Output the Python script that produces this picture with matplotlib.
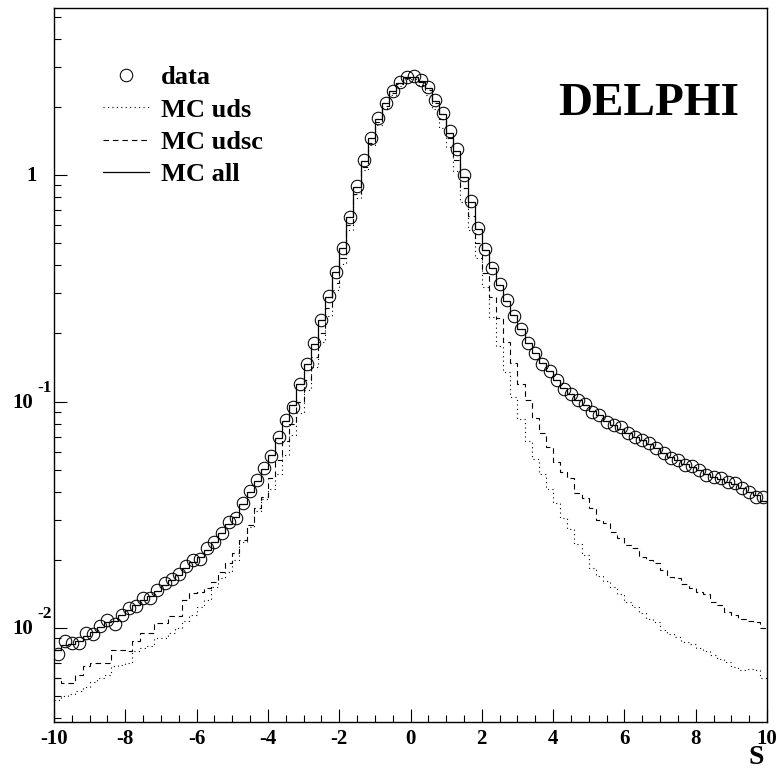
import numpy as np
import matplotlib.pyplot as plt
from matplotlib.lines import Line2D
from matplotlib.ticker import MultipleLocator, LogLocator, NullFormatter

plt.rcParams['font.family'] = ['Liberation Serif', 'DejaVu Serif']
plt.rcParams['font.weight'] = 'bold'
plt.rcParams['axes.unicode_minus'] = False

# 100 bins of width 0.2 between -10 and 10
bin_edges = np.arange(-10.0, 10.001, 0.2)
bin_centers = 0.5 * (bin_edges[:-1] + bin_edges[1:])

data = [
    0.0077, 0.0088, 0.0086, 0.0086, 0.0095, 0.0094, 0.0102, 0.0109, 0.0104, 0.0114,
    0.0123, 0.0125, 0.0136, 0.0136, 0.0147, 0.0158, 0.0164, 0.0173, 0.0188, 0.0200,
    0.0201, 0.0225, 0.0240, 0.0262, 0.0293, 0.0305, 0.0355, 0.0403, 0.0450, 0.0507,
    0.0577, 0.0700, 0.0830, 0.0950, 0.120, 0.147, 0.182, 0.230, 0.292, 0.375,
    0.478, 0.655, 0.890, 1.16, 1.46, 1.78, 2.08, 2.35, 2.58, 2.70,
    2.74, 2.62, 2.45, 2.15, 1.88, 1.56, 1.30, 1.00, 0.77, 0.585,
    0.47, 0.39, 0.33, 0.28, 0.238, 0.208, 0.181, 0.163, 0.147, 0.137,
    0.124, 0.114, 0.108, 0.102, 0.098, 0.090, 0.087, 0.0814, 0.0787, 0.0775,
    0.0723, 0.070, 0.0676, 0.0654, 0.0625, 0.059, 0.0561, 0.0552, 0.0525, 0.0522,
    0.0499, 0.0473, 0.0465, 0.0458, 0.0443, 0.0435, 0.0414, 0.0400, 0.0380, 0.0378,
]

mc_all = [
    0.0080, 0.0084, 0.0085, 0.0088, 0.0092, 0.0096, 0.0101, 0.0106, 0.0108, 0.0114,
    0.0120, 0.0126, 0.0133, 0.0138, 0.0146, 0.0155, 0.0163, 0.0172, 0.0185, 0.0196,
    0.0206, 0.0222, 0.0240, 0.0262, 0.0288, 0.0310, 0.0352, 0.0400, 0.0448, 0.0505,
    0.0580, 0.0690, 0.0820, 0.0970, 0.119, 0.146, 0.180, 0.228, 0.290, 0.372,
    0.475, 0.650, 0.885, 1.15, 1.45, 1.77, 2.07, 2.34, 2.56, 2.70,
    2.72, 2.60, 2.42, 2.13, 1.85, 1.54, 1.27, 0.98, 0.76, 0.58,
    0.465, 0.388, 0.328, 0.279, 0.240, 0.208, 0.182, 0.164, 0.148, 0.136,
    0.124, 0.115, 0.108, 0.102, 0.097, 0.091, 0.087, 0.082, 0.079, 0.076,
    0.073, 0.070, 0.0675, 0.065, 0.0625, 0.0595, 0.057, 0.0552, 0.053, 0.0515,
    0.0498, 0.0478, 0.0465, 0.0455, 0.0443, 0.0432, 0.0415, 0.0400, 0.0385, 0.0365,
]

mc_udsc = [
    0.0060, 0.0057, 0.0057, 0.0062, 0.0068, 0.0070, 0.0070, 0.0070, 0.0080, 0.0080,
    0.0079, 0.0088, 0.0095, 0.0095, 0.0105, 0.0105, 0.0113, 0.0113, 0.0133, 0.0143,
    0.0145, 0.0150, 0.0160, 0.0177, 0.0194, 0.0215, 0.0245, 0.0285, 0.0340, 0.0380,
    0.0460, 0.055, 0.067, 0.080, 0.100, 0.125, 0.157, 0.200, 0.258, 0.335,
    0.432, 0.600, 0.825, 1.09, 1.39, 1.71, 2.01, 2.29, 2.52, 2.67,
    2.70, 2.57, 2.38, 2.07, 1.76, 1.45, 1.17, 0.88, 0.66, 0.50,
    0.37, 0.29, 0.233, 0.184, 0.1475, 0.120, 0.1016, 0.0843, 0.0724, 0.0631,
    0.0542, 0.049, 0.0458, 0.0393, 0.0374, 0.0338, 0.030, 0.029, 0.0266, 0.0249,
    0.0232, 0.0225, 0.0207, 0.020, 0.0193, 0.018, 0.0168, 0.0166, 0.0157, 0.0150,
    0.0145, 0.0142, 0.0131, 0.0126, 0.0118, 0.0114, 0.0110, 0.0107, 0.0106, 0.0100,
]

mc_uds = [
    0.0048, 0.0050, 0.0051, 0.0053, 0.0055, 0.0058, 0.0060, 0.0062, 0.0068, 0.0069,
    0.0070, 0.0079, 0.0082, 0.0083, 0.0090, 0.0090, 0.0095, 0.0100, 0.0108, 0.0114,
    0.0124, 0.0133, 0.0152, 0.0166, 0.0177, 0.0200, 0.0240, 0.0280, 0.0330, 0.0370,
    0.0410, 0.048, 0.058, 0.071, 0.089, 0.112, 0.142, 0.183, 0.238, 0.312,
    0.405, 0.570, 0.790, 1.05, 1.35, 1.67, 1.97, 2.25, 2.48, 2.64,
    2.65, 2.50, 2.25, 1.95, 1.62, 1.33, 1.04, 0.76, 0.57, 0.43,
    0.32, 0.235, 0.175, 0.135, 0.105, 0.084, 0.067, 0.056, 0.048, 0.041,
    0.0355, 0.0305, 0.0275, 0.0235, 0.0210, 0.0185, 0.0170, 0.0162, 0.0152, 0.0142,
    0.0131, 0.0124, 0.0116, 0.0110, 0.0106, 0.0098, 0.0094, 0.0091, 0.0087, 0.0085,
    0.0082, 0.0079, 0.0076, 0.0073, 0.0071, 0.0067, 0.0065, 0.0066, 0.0065, 0.0060,
]

xticks = [-10, -8, -6, -4, -2, 0, 2, 4, 6, 8, 10]
ytick_vals = [1, 0.1, 0.01]
ytick_base = ['1', '10', '10']
ytick_exp = ['', '-1', '-2']
legend_labels = ['data', 'MC uds', 'MC udsc', 'MC all']

dotted = (0, (1, 3))
dashed = (0, (5, 3.5))

fig = plt.figure(figsize=(7.8, 7.72), dpi=100)
ax = fig.add_axes([54/780, 1-722/772, (767-54)/780, (722-8)/772])

ax.stairs(mc_uds, bin_edges, baseline=None, color='k', lw=0.8, linestyle=dotted)
ax.stairs(mc_udsc, bin_edges, baseline=None, color='k', lw=0.8, linestyle=dashed)
ax.stairs(mc_all, bin_edges, baseline=None, color='k', lw=0.9)
ax.plot(bin_centers, data, 'o', mfc='none', mec='k', ms=9, mew=0.75)

ax.set_yscale('log')
ax.set_xlim(-10, 10)
ax.set_ylim(0.00385, 5.46)

ax.set_xticks(xticks)
ax.xaxis.set_minor_locator(MultipleLocator(0.5))
ax.yaxis.set_major_locator(LogLocator(base=10, numticks=10))
ax.yaxis.set_minor_locator(LogLocator(base=10, subs=np.arange(2, 10), numticks=20))
ax.yaxis.set_minor_formatter(NullFormatter())
ax.tick_params(which='both', direction='in', width=0.8, top=False, right=False)
ax.tick_params(which='major', length=9.5)
ax.tick_params(which='minor', length=5)
ax.tick_params(axis='x', labelsize=15, pad=5)
ax.tick_params(axis='y', labelleft=False)
for lab in ax.get_xticklabels():
    lab.set_fontweight('bold')
for sp in ax.spines.values():
    sp.set_linewidth(1.0)

# ROOT-style y labels: base with raised exponent
for val, base, exp in zip(ytick_vals, ytick_base, ytick_exp):
    off = -21 if exp else -17
    ax.annotate(base, xy=(0, val), xycoords=('axes fraction', 'data'),
                xytext=(off, -1), textcoords='offset pixels',
                ha='right', va='center', fontsize=15, fontweight='bold')
    if exp:
        ax.annotate(exp, xy=(0, val), xycoords=('axes fraction', 'data'),
                    xytext=(-17, 14), textcoords='offset pixels',
                    ha='left', va='center', fontsize=12.5, fontweight='bold')

handles = [
    Line2D([], [], ls='none', marker='o', mfc='none', mec='k', ms=9, mew=0.75),
    Line2D([], [], color='k', lw=0.8, ls=dotted),
    Line2D([], [], color='k', lw=0.8, ls=dashed),
    Line2D([], [], color='k', lw=0.9),
]
ax.legend(handles, legend_labels, loc='upper left',
          bbox_to_anchor=(103/780, 1-66/772), bbox_transform=fig.transFigure,
          frameon=False, borderpad=0, borderaxespad=0,
          handlelength=1.75, handletextpad=0.45, labelspacing=0.33,
          prop={'family': 'Liberation Serif', 'weight': 'bold', 'size': 19})

fig.text(649/780, 1-104/772, 'DELPHI', ha='center', va='center',
         fontsize=34, fontweight='bold')
fig.text(764/780, 1-757/772, 'S', ha='right', va='center',
         fontsize=20, fontweight='bold')

fig.savefig('out.png', dpi=100)
